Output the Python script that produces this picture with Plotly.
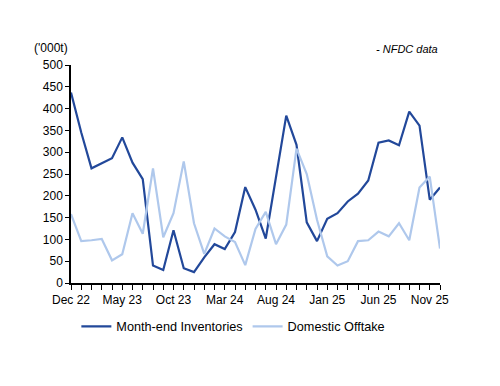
import plotly.graph_objects as go

months = ["Dec 22","Jan 23","Feb 23","Mar 23","Apr 23","May 23","Jun 23","Jul 23","Aug 23","Sep 23","Oct 23","Nov 23",
          "Dec 23","Jan 24","Feb 24","Mar 24","Apr 24","May 24","Jun 24","Jul 24","Aug 24","Sep 24","Oct 24","Nov 24",
          "Dec 24","Jan 25","Feb 25","Mar 25","Apr 25","May 25","Jun 25","Jul 25","Aug 25","Sep 25","Oct 25","Nov 25","Dec 25"]
inventories = [437, 345, 263, 275, 286, 334, 276, 238, 40, 30, 121, 34,
               25, 59, 89, 78, 117, 220, 168, 102, 244, 384, 317, 139,
               96, 147, 160, 187, 205, 235, 322, 327, 316, 393, 361, 191, 219]
offtake = [158, 96, 98, 101, 52, 66, 160, 113, 263, 105, 160, 279,
           137, 67, 125, 107, 94, 41, 124, 163, 89, 134, 308, 250,
           145, 61, 40, 50, 96, 98, 118, 107, 137, 98, 219, 244, 79]
tick_idx = list(range(0, 36, 5))
tick_labels = [months[i] for i in tick_idx]
yticks = list(range(0, 501, 50))

x = list(range(len(months)))
font = "Liberation Sans"

fig = go.Figure()
fig.add_trace(go.Scatter(x=x, y=inventories, mode="lines", name="Month-end Inventories",
                         line=dict(color="#22489A", width=2.2)))
fig.add_trace(go.Scatter(x=x, y=offtake, mode="lines", name="Domestic Offtake",
                         line=dict(color="#AFC8EC", width=2.2)))

fig.update_layout(
    width=492, height=378,
    margin=dict(l=63, r=60, t=57, b=103),
    paper_bgcolor="white", plot_bgcolor="white",
    font=dict(family=font, size=12, color="#000000"),
    showlegend=True,
    legend=dict(orientation="h", x=0.44, xanchor="center", y=-0.2, yanchor="middle",
                font=dict(size=12.7, family=font), itemwidth=30, tracegroupgap=0),
    xaxis=dict(range=[0, 36], tickmode="array", tickvals=tick_idx, ticktext=tick_labels,
               showgrid=False, zeroline=False, showline=True, linecolor="#000000", linewidth=1.5,
               ticks="outside", ticklen=5, tickcolor="#000000", tickwidth=1,
               minor=dict(dtick=1, tick0=0, ticks="outside", ticklen=5, tickcolor="#000000", tickwidth=1),
               tickfont=dict(size=12, family=font)),
    yaxis=dict(range=[0, 500], tickmode="array", tickvals=yticks,
               showgrid=False, zeroline=False, showline=True, linecolor="#000000", linewidth=1.5,
               ticks="outside", ticklen=4, tickcolor="#000000", tickwidth=1,
               tickfont=dict(size=12, family=font)),
    annotations=[
        dict(text="('000t)", x=-0.002, xref="paper", xanchor="right", y=1.078, yref="paper",
             yanchor="middle", showarrow=False, font=dict(size=12, family=font)),
        dict(text="<i>- NFDC data</i>", x=1.0, xref="paper", xanchor="right", y=1.075, yref="paper",
             yanchor="middle", showarrow=False, font=dict(size=11, family=font)),
    ],
)

fig.write_html("out.html")
